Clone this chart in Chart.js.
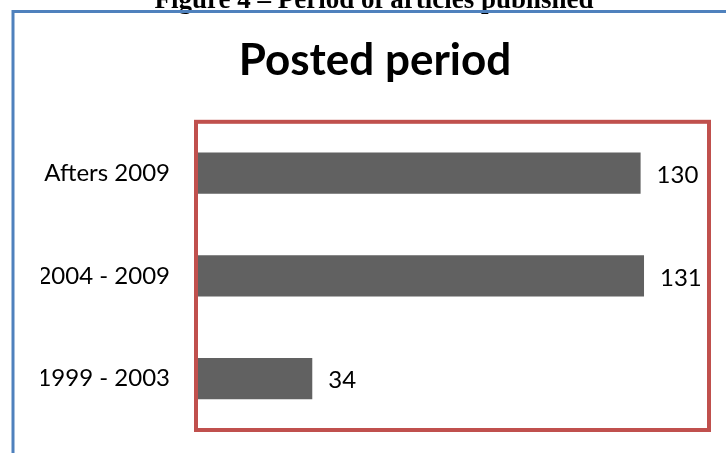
<!DOCTYPE html>
<html>
<head>
<meta charset="utf-8">
<script src="https://cdn.jsdelivr.net/npm/chart.js@4/dist/chart.umd.min.js"></script>
<style>
	html, body { margin: 0; padding: 0; background: #fff; }
	canvas { display: block; }
</style>
</head>
<body>
<canvas id="j-canvas-period" width="726" height="453"></canvas>
<script>
var periods = ['Afters 2009', '2004 - 2009', '1999 - 2003'];
var articleCounts = [130, 131, 34];
var axisMin = 0;
var axisMax = 150;
var chartTitle = 'Posted period';
var figureCaption = 'Figure 4 \u2013 Period of articles published';

// frame, caption, plot border and value labels
var decorPlugin = {
	id: 'decor',
	beforeDraw: function(chart) {
		var ctx = chart.ctx;
		ctx.save();
		ctx.fillStyle = '#000';
		ctx.font = 'bold 27px "Liberation Serif"';
		ctx.textAlign = 'center';
		ctx.textBaseline = 'alphabetic';
		ctx.fillText(figureCaption, 374, 8);
		ctx.strokeStyle = '#4f81bd';
		ctx.lineWidth = 3;
		ctx.beginPath();
		ctx.moveTo(13, 453);
		ctx.lineTo(13, 11.5);
		ctx.lineTo(726, 11.5);
		ctx.stroke();
		ctx.restore();
	},
	afterDraw: function(chart) {
		var ctx = chart.ctx;
		var area = chart.chartArea;
		ctx.save();
		ctx.strokeStyle = '#c0504d';
		ctx.lineWidth = 4;
		ctx.strokeRect(area.left, area.top, area.right - area.left, area.bottom - area.top);
		ctx.fillStyle = '#000';
		ctx.font = '24px Lato';
		ctx.textAlign = 'left';
		ctx.textBaseline = 'middle';
		var meta = chart.getDatasetMeta(0);
		for (var i = 0; i < meta.data.length; i++) {
			var bar = meta.data[i];
			ctx.fillText(String(articleCounts[i]), bar.x + 16, bar.y + 2);
		}
		ctx.restore();
	}
};

var ctx = document.getElementById('j-canvas-period').getContext('2d');
window.myBar = new Chart(ctx, {
	type: 'bar',
	data: {
		labels: periods,
		datasets: [{
			label: chartTitle,
			backgroundColor: '#616161',
			borderWidth: 0,
			data: articleCounts,
			categoryPercentage: 1,
			barPercentage: 0.4
		}]
	},
	plugins: [decorPlugin],
	options: {
		indexAxis: 'y',
		responsive: false,
		animation: false,
		devicePixelRatio: 1,
		layout: {
			padding: { left: 41, right: 17, top: 0, bottom: 23 }
		},
		scales: {
			x: {
				display: false,
				min: axisMin,
				max: axisMax
			},
			y: {
				grid: { display: false },
				border: { display: false },
				ticks: {
					color: '#000',
					padding: 18,
					font: { family: 'Lato', size: 24 }
				},
				afterFit: function(scale) {
					scale.width = 155;
					scale.paddingTop = 0;
					scale.paddingBottom = 0;
				}
			}
		},
		plugins: {
			legend: { display: false },
			tooltip: { enabled: false },
			title: {
				display: true,
				text: chartTitle,
				color: '#000',
				font: { family: 'Lato', size: 44, weight: 'bold' },
				padding: { top: 34, bottom: 35 }
			}
		}
	}
});
</script>
</body>
</html>
